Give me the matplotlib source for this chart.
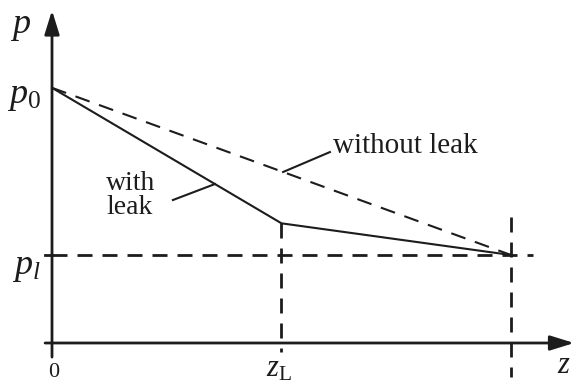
import numpy as np
import matplotlib
matplotlib.use("Agg")
import matplotlib.pyplot as plt

plt.rcParams['font.family'] = ['Liberation Serif', 'DejaVu Serif']
plt.rcParams['mathtext.fontset'] = 'custom'
plt.rcParams['mathtext.rm'] = 'Liberation Serif'
plt.rcParams['mathtext.it'] = 'Liberation Serif:italic'

# pressure along the pipe (z = 0, z_L, end of pipe)
z_pts = [0.0, 1.0, 2.0]
p_with_leak = [2.9, 1.36, 1.0]
p_without_leak = [2.9, 1.0]
z_L = 1.0
z_end = 2.0
p_0 = 2.9
p_l = 1.0

ink = '#1c1c1c'

fig = plt.figure(figsize=(5.75, 3.83), dpi=100)
ax = fig.add_axes([0, 0, 1, 1])
ax.set_xlim(-0.2266, 2.2789)
ax.set_ylim(-0.4545, 3.898)
ax.axis('off')

# axes with arrow heads
arrow = dict(arrowstyle='-|>,head_length=1.45,head_width=0.45', color=ink,
             lw=2.0, shrinkA=0, shrinkB=0, mutation_scale=10)
ax.annotate('', xy=(0, 3.78), xytext=(0, -0.16), arrowprops=arrow)
ax.annotate('', xy=(2.275, 0), xytext=(-0.03, 0), arrowprops=arrow)
ax.plot([-0.03, 0], [p_l, p_l], color=ink, lw=2.0)

# reference lines
ax.plot([0, 2.096], [p_l, p_l], color=ink, lw=2.0, dashes=(5.4, 3.6))
ax.plot([z_L, z_L], [p_with_leak[1], -0.1], color=ink, lw=2.0, dashes=(5.4, 3.6))
ax.plot([z_end, z_end], [1.43, -0.39], color=ink, lw=2.0, dashes=(5.4, 3.6))

# pressure profiles
ax.plot([0, z_end], p_without_leak, color=ink, lw=1.5, dashes=(7.2, 4.8))
ax.plot(z_pts, p_with_leak, color=ink, lw=1.5)

# leaders to the curves
x1 = 0.71
ax.plot([0.527, x1], [1.625, np.interp(x1, z_pts, p_with_leak)], color=ink, lw=1.5)
x2 = 1.007
ax.plot([1.211, x2], [2.17, np.interp(x2, [0, z_end], p_without_leak)], color=ink, lw=1.5)

ax.text(0.235, 1.95, 'with\nleak', fontsize=20, color=ink, ha='left', va='top',
        linespacing=0.95)
ax.text(1.224, 2.159, 'without leak', fontsize=21, color=ink, ha='left',
        va='baseline')

# axis labels
ax.text(-0.135, 3.6, '$p$', fontsize=26, color=ink, ha='center', va='center')
ax.text(-0.05, 2.8, '$p_0$', fontsize=26, color=ink, ha='right', va='center')
ax.text(-0.05, 0.86, '$p_l$', fontsize=26, color=ink, ha='right', va='center')
ax.text(0.009, -0.44, '0', fontsize=16, color=ink, ha='center', va='bottom')
ax.text(0.989, -0.3, r'$z_\mathrm{L}$', fontsize=22, color=ink, ha='center', va='center')
ax.text(2.231, -0.25, '$z$', fontsize=22, color=ink, ha='center', va='center')

fig.savefig('out.png', dpi=100)
